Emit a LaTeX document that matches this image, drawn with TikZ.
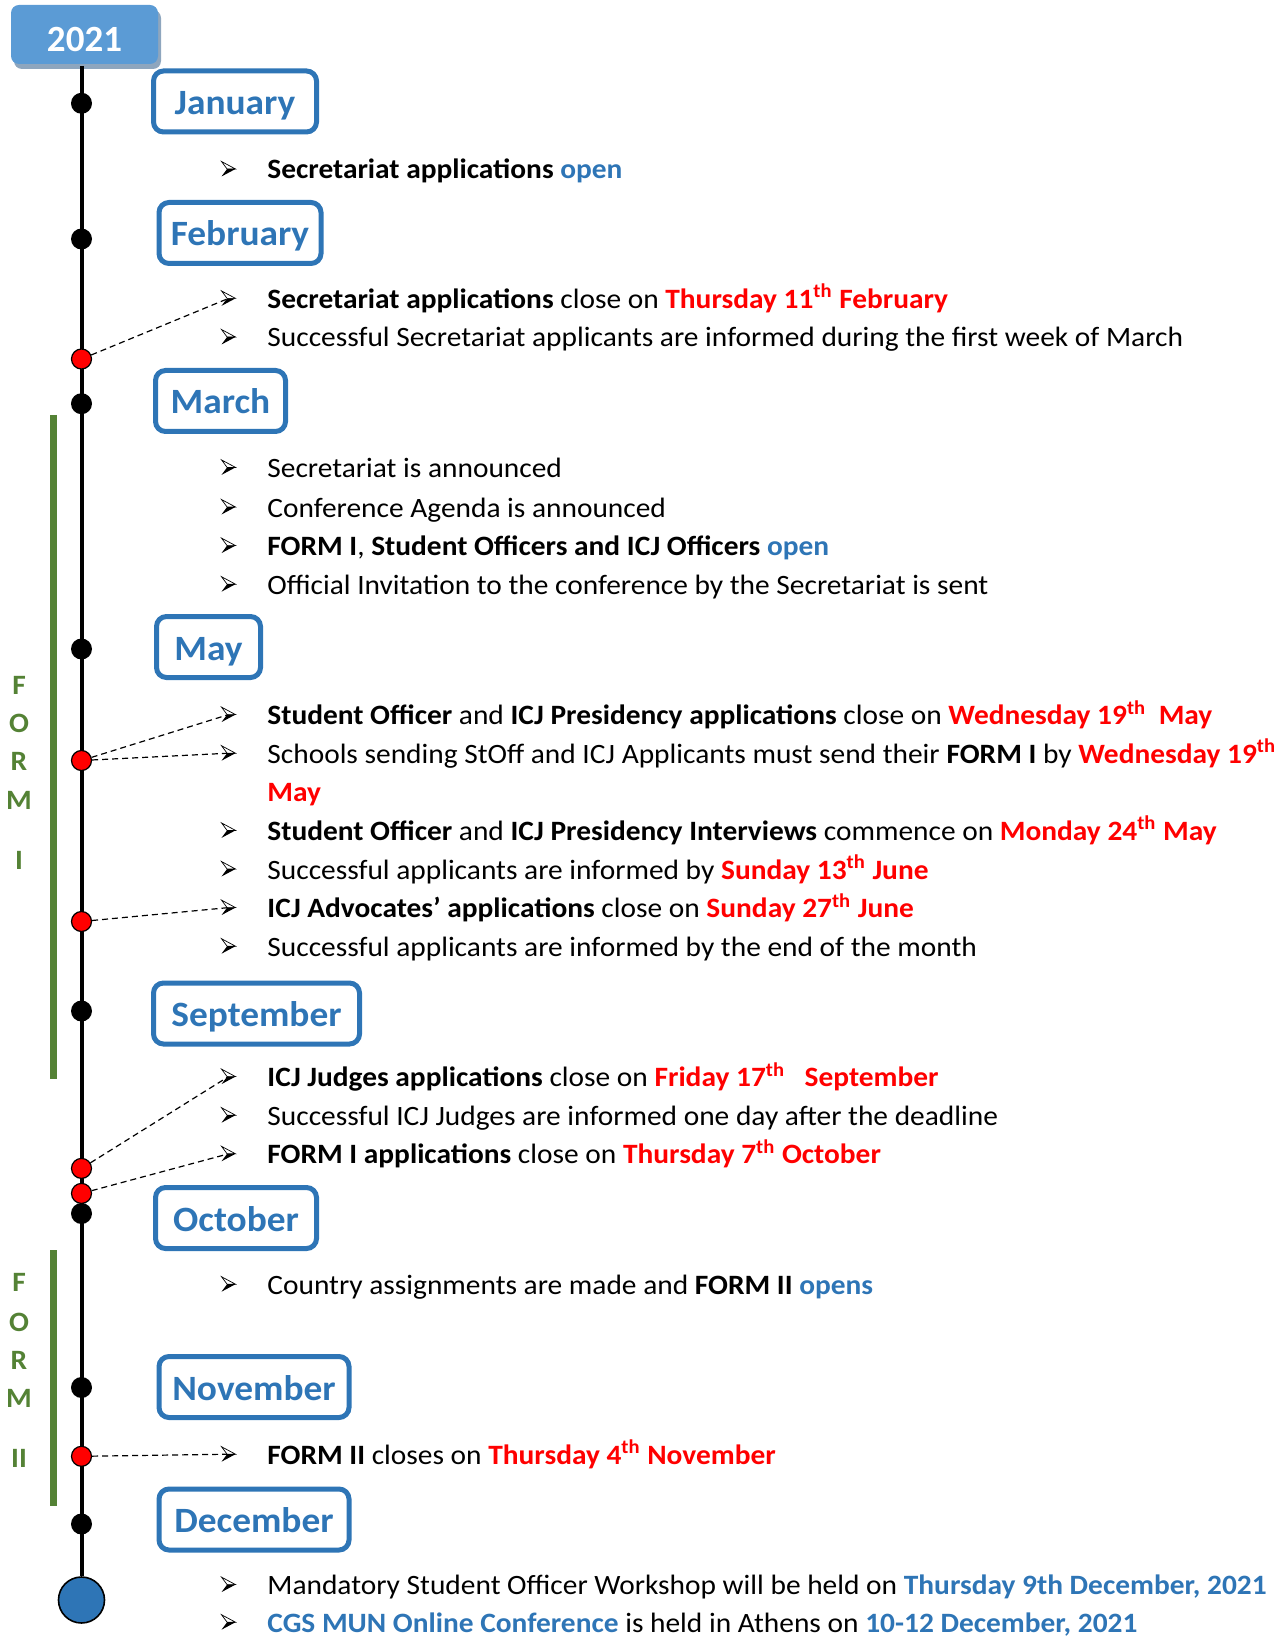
\documentclass[tikz,border=0pt]{standalone}
\usepackage{fontspec}
\setmainfont{Carlito}[FakeStretch=1.05]
\newfontfamily\monthfont{Carlito}[FakeStretch=1.05]
\newfontfamily\plainfont{Carlito}
\usetikzlibrary{shadows}
\definecolor{mblue}{HTML}{2E75B6}
\definecolor{lblue}{HTML}{5B9BD5}
\definecolor{shadowc}{HTML}{8EA6BE}
\definecolor{fgreen}{HTML}{548235}
\newcommand\redb[1]{\textcolor{red}{\textbf{#1}}}
\newcommand\blueb[1]{\textcolor{mblue}{\textbf{#1}}}
\tikzset{
  tl/.style={line width=2pt},
  bdot/.style={circle, fill=black, inner sep=0pt, minimum size=10.5pt},
  rdot/.style={circle, fill=red, draw=black, line width=0.6pt, inner sep=0pt, minimum size=10pt},
  month/.style={draw=mblue, line width=2.5pt, rounded corners=5pt, text=mblue,
    font=\monthfont\fontsize{17.8}{20}\selectfont\bfseries, minimum height=30.5pt, inner sep=0pt,
    text height=13pt, text depth=0pt},
  bulnode/.style={inner sep=0pt, minimum width=7pt, minimum height=7.5pt},
  item/.style={anchor=base west, inner sep=0pt, font=\fontsize{14}{16}\selectfont},
  conn/.style={dash pattern=on 3pt off 2pt, line width=0.6pt},
  formtxt/.style={text=fgreen, font=\bfseries\fontsize{14}{16}\selectfont, inner sep=0pt},
  gbar/.style={draw=fgreen, line width=3.5pt},
  bulletglyph/.pic={
    \filldraw[fill=white, draw=black, line width=0.35pt, line join=miter]
      (-3.5pt,3.75pt) -- (3.5pt,0pt) -- (-0.7pt,0pt) -- cycle;
    \fill[black] (-3.5pt,-3.75pt) -- (3.5pt,0pt) -- (-0.7pt,0pt) -- cycle;
  },
}
\begin{document}
\begin{tikzpicture}[x=0.5pt, y=-0.5pt]
\useasboundingbox (0,0) rectangle (1281,1636);
% year box
\node[fill=lblue, rounded corners=4pt, minimum width=73.5pt, minimum height=29.5pt, inner sep=0pt,
  drop shadow={shadow xshift=1.5pt, shadow yshift=-2.5pt, fill=shadowc, opacity=1}] (y21) at (84.5,34.5) {};
\node[anchor=base, inner sep=0pt, text=white, font=\plainfont\fontsize{18.5}{20}\selectfont\bfseries] (y21t) at (84.5,52) {2021};
% timeline
\coordinate (ttop) at (81.5,66);
\node[circle, fill=mblue, draw=black, line width=0.8pt, minimum size=23pt, inner sep=0pt] (big) at (81.5,1600) {};
\draw[tl] (ttop) -- (big.north);
% green bars
\coordinate (g1a) at (53.5,415); \coordinate (g1b) at (53.5,1079);
\coordinate (g2a) at (53.5,1250); \coordinate (g2b) at (53.5,1506);
\draw[gbar] (g1a) -- (g1b);
\draw[gbar] (g2a) -- (g2b);
\node[formtxt] (f1) at (19,685) {F};
\node[formtxt] (f2) at (19,723) {O};
\node[formtxt] (f3) at (19,761.5) {R};
\node[formtxt] (f4) at (19,800) {M};
\node[formtxt] (f5) at (19,860.5) {I};
\node[formtxt] (h1) at (19,1282) {F};
\node[formtxt] (h2) at (19,1322) {O};
\node[formtxt] (h3) at (19,1360) {R};
\node[formtxt] (h4) at (19,1398) {M};
\node[formtxt] (h5) at (19,1458) {II};
% dots
\node[bdot] (d1) at (81.5,103.3) {};
\node[bdot] (d2) at (81.5,239) {};
\node[rdot] (r1) at (81.5,359) {};
\node[bdot] (d3) at (81.5,403.7) {};
\node[bdot] (d4) at (81.5,649) {};
\node[rdot] (r2) at (81.5,760.5) {};
\node[rdot] (r3) at (81.5,921.5) {};
\node[bdot] (d5) at (81.5,1011) {};
\node[rdot] (r4) at (81.5,1168.4) {};
\node[rdot] (r5) at (81.5,1193.4) {};
\node[bdot] (d6) at (81.5,1213.5) {};
\node[bdot] (d7) at (81.5,1387.5) {};
\node[rdot] (r6) at (81.5,1456.3) {};
\node[bdot] (d8) at (81.5,1524) {};
% months
\node[month, minimum width=81.5pt] (m1) at (235,101.5) {January};
\node[month, minimum width=81pt] (m2) at (240,233) {February};
\node[month, minimum width=65pt] (m3) at (220.5,401) {March};
\node[month, minimum width=52pt] (m4) at (208.5,647) {May};
\node[month, minimum width=103pt] (m5) at (256.5,1013.5) {September};
\node[month, minimum width=80.5pt] (m6) at (236,1218) {October};
\node[month, minimum width=95pt] (m7) at (254,1387) {November};
\node[month, minimum width=95pt] (m8) at (254,1519.5) {December};
% bullet anchors
\foreach \n/\yy in {1/169, 2/298.4, 3/337, 4/467.4, 5/507, 6/545.6, 7/584.2, 8/714.6, 9/753.2,
  10/830.4, 11/869, 12/907.6, 13/946.2, 14/1076.6, 15/1115.2, 16/1153.8, 17/1284.2, 18/1454.2,
  19/1584.6, 20/1622.2}{
  \node[bulnode] (b\n) at (228.5,\yy) {};
}
% connectors
\draw[conn] (r1) -- (b2.center);
\draw[conn] (r2) -- (b8.center);
\draw[conn] (r2) -- (b9.center);
\draw[conn] (r3) -- (b12.center);
\draw[conn] (r4) -- (b14.center);
\draw[conn] (r5) -- (b16.center);
\draw[conn] (r6) -- (b18.center);
% bullet glyphs
\foreach \n in {1,...,20}{ \pic at (b\n) {bulletglyph}; }
% items
\node[item] (t1) at (267,179) {\textbf{Secretariat applications} \blueb{open}};
\node[item] (t2) at (267,308.4) {\textbf{Secretariat applications} close on \redb{Thursday 11\textsuperscript{th} February}};
\node[item] (t3) at (267,347) {Successful Secretariat applicants are informed during the first week of March};
\node[item] (t4) at (267,477.4) {Secretariat is announced};
\node[item] (t5) at (267,517) {Conference Agenda is announced};
\node[item] (t6) at (267,555.6) {\textbf{FORM I}, \textbf{Student Officers and ICJ Officers} \blueb{open}};
\node[item] (t7) at (267,594.2) {Official Invitation to the conference by the Secretariat is sent};
\node[item] (t8) at (267,724.6) {\textbf{Student Officer} and \textbf{ICJ Presidency applications} close on \redb{Wednesday 19\textsuperscript{th}\hspace{0.45em}May}};
\node[item] (t9) at (267,763.2) {Schools sending StOff and ICJ Applicants must send their \textbf{FORM I} by \redb{Wednesday 19\textsuperscript{th}}};
\node[item] (t9b) at (267,801.8) {\redb{May}};
\node[item] (t10) at (267,840.4) {\textbf{Student Officer} and \textbf{ICJ Presidency Interviews} commence on \redb{Monday 24\textsuperscript{th} May}};
\node[item] (t11) at (267,879) {Successful applicants are informed by \redb{Sunday 13\textsuperscript{th} June}};
\node[item] (t12) at (267,917.6) {\textbf{ICJ Advocates’ applications} close on \redb{Sunday 27\textsuperscript{th} June}};
\node[item] (t13) at (267,956.2) {Successful applicants are informed by the end of the month};
\node[item] (t14) at (267,1086.6) {\textbf{ICJ Judges applications} close on \redb{Friday 17\textsuperscript{th}\hspace{0.7em}September}};
\node[item] (t15) at (267,1125.2) {Successful ICJ Judges are informed one day after the deadline};
\node[item] (t16) at (267,1163.8) {\textbf{FORM I applications} close on \redb{Thursday 7\textsuperscript{th} October}};
\node[item] (t17) at (267,1294.2) {Country assignments are made and \textbf{FORM II} \blueb{opens}};
\node[item] (t18) at (267,1464.2) {\textbf{FORM II} closes on \redb{Thursday 4\textsuperscript{th} November}};
\node[item] (t19) at (267,1594.6) {Mandatory Student Officer Workshop will be held on \blueb{Thursday 9th December, 2021}};
\node[item] (t20) at (267,1632.2) {\blueb{CGS MUN Online Conference} is held in Athens on \blueb{10-12 December, 2021}};
\end{tikzpicture}
\end{document}
